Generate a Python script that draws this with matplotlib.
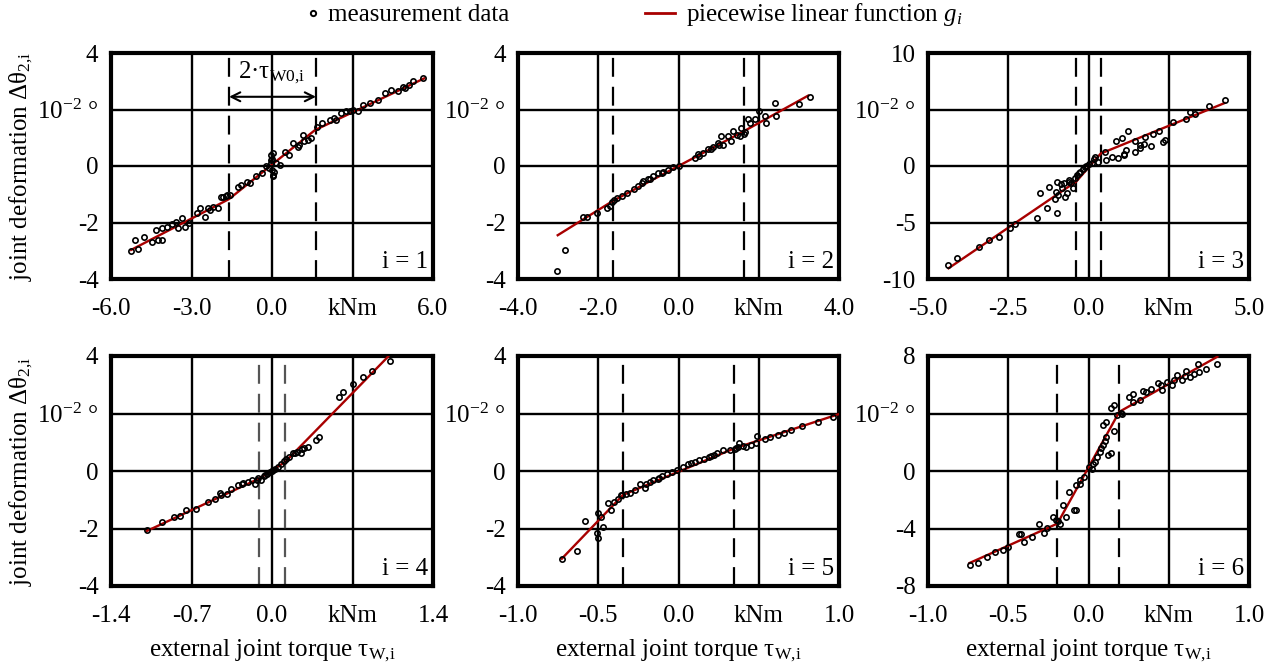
import numpy as np
import matplotlib
matplotlib.use("Agg")
import matplotlib.pyplot as plt
from matplotlib.lines import Line2D

plt.rcParams.update({
    "font.family": ["Liberation Serif", "DejaVu Serif"],
    "font.size": 18,
    "mathtext.fontset": "custom",
    "mathtext.rm": "Liberation Serif",
    "mathtext.it": "Liberation Serif:italic",
    "mathtext.bf": "Liberation Serif:bold",
})

# ---------------- data ----------------
# panel 1
x1 = [-5.26, -5.11, -4.98, -4.77, -4.49, -4.33, -4.24, -4.11, -4.11, -3.74, -3.56, -3.49, -3.37, -3.25,
      -3.08, -2.81, -2.69, -2.50, -2.38, -2.19, -2.00, -1.84, -1.69, -1.57, -1.26, -1.14, -0.95, -0.83,
      -0.60, -0.39, -0.23, -0.11, -0.02, 0.04, 0.02, 0.07, -0.02, 0.14, 0.29, 0.48, 0.64, 0.79, 0.97,
      1.16, 1.35, 1.47, 1.66, 1.88, 2.15, 2.40, 2.59, 2.77, 3.21, 3.39, 3.64, 3.95, 4.20, 4.45, 4.69,
      4.94, 5.25, 5.63,
      0.00, 0.00, 0.05, -0.05, -1.90, -1.70, 2.30, 2.90, 3.00, 4.90, 5.10, -3.90, -2.30, 1.00, 1.20]
y1 = [-3.00, -2.62, -2.95, -2.52, -2.70, -2.27, -2.62, -2.21, -2.62, -2.05, -1.97, -2.21, -1.85, -2.15,
      -2.03, -1.67, -1.50, -1.79, -1.50, -1.44, -1.50, -1.08, -1.02, -1.02, -0.73, -0.67, -0.55, -0.61,
      -0.37, -0.26, 0.00, -0.08, 0.39, 0.45, -0.31, -0.20, 0.10, 0.10, 0.04, 0.51, 0.39, 0.81, 0.69,
      1.10, 0.93, 0.99, 1.38, 1.52, 1.64, 1.64, 1.87, 1.93, 1.93, 2.17, 2.23, 2.35, 2.58, 2.70, 2.64,
      2.76, 3.00, 3.11,
      0.25, -0.15, -0.35, 0.20, -1.10, -1.05, 1.70, 1.95, 2.00, 2.80, 2.85, -2.15, -1.55, 0.75, 0.90]
# panel 2
x2 = [-3.03, -2.84, -2.39, -2.28, -2.03, -1.77, -1.66, -1.54, -1.41, -1.29, -1.12, -1.00, -0.89, -0.75,
      -0.63, -0.50, -0.38, -0.25, -0.13, 0.00, 0.41, 0.49, 0.62, 0.74, 0.87, 0.99, 1.07, 1.12, 1.24,
      1.32, 1.35, 1.53, 1.57, 1.74, 1.78, 1.90, 2.01, 2.15, 2.19, 2.40, 2.43, 3.01, 3.27,
      -1.70, -1.60, -0.90, -0.70, -0.40, 0.50, 0.80, 1.00, 1.45, 1.63, 1.65]
y2 = [-3.73, -2.98, -1.82, -1.80, -1.65, -1.47, -1.29, -1.15, -1.06, -0.94, -0.82, -0.71, -0.53, -0.45,
      -0.35, -0.26, -0.21, -0.14, -0.04, 0.00, 0.29, 0.41, 0.47, 0.59, 0.68, 0.82, 1.06, 0.76, 1.06,
      0.88, 1.24, 1.06, 1.35, 1.65, 1.53, 1.67, 1.94, 1.76, 1.53, 2.24, 1.76, 2.21, 2.45,
      -1.40, -1.20, -0.60, -0.45, -0.25, 0.35, 0.60, 0.75, 1.10, 1.15, 1.20]
# panel 3
x3 = [-4.39, -4.10, -3.42, -3.11, -2.79, -2.46, -2.28, -1.61, -1.51, -1.28, -1.22, -1.04, -1.01, -0.99,
      -0.99, -0.94, -0.83, -0.76, -0.73, -0.68, -0.62, -0.56, -0.49, -0.42, -0.35, -0.26, -0.18, -0.08,
      0.03, 0.17, 0.31, 0.51, 0.56, 0.72, 0.85, 0.93, 1.03, 1.10, 1.17, 1.24, 1.45, 1.45, 1.60, 1.73,
      1.76, 1.96, 2.02, 2.20, 2.31, 2.38, 2.64, 3.05, 3.16, 3.31, 3.76, 4.24,
      -0.30, -0.10, 0.10, 0.20, -0.60, -0.85, 1.10, 1.60]
y3 = [-8.76, -8.17, -7.13, -6.54, -6.25, -5.51, -5.15, -4.56, -2.41, -3.74, -1.82, -2.94, -2.26, -1.46,
      -4.18, -2.56, -1.96, -1.52, -2.70, -2.35, -1.23, -1.52, -1.96, -1.08, -0.78, -0.49, -0.28, 0.00,
      0.19, 0.61, 0.31, 1.28, 0.55, 0.84, 2.17, 0.69, 2.47, 0.99, 1.43, 3.06, 1.28, 2.17, 1.58, 1.94,
      2.56, 1.73, 2.82, 3.06, 2.08, 2.32, 3.89, 4.18, 4.74, 4.62, 5.33, 5.86,
      -0.60, -0.10, 0.30, 0.80, -1.40, -1.60, 1.10, 1.90]
# panel 4
x4 = [-1.09, -0.96, -0.85, -0.80, -0.75, -0.66, -0.56, -0.50, -0.44, -0.39, -0.36, -0.30, -0.26, -0.21,
      -0.17, -0.15, -0.12, -0.10, -0.07, -0.04, -0.02, 0.01, 0.05, 0.08, 0.12, 0.15, 0.18, 0.22, 0.25,
      0.26, 0.31, 0.38, 0.41, 0.58, 0.62, 0.70, 0.79, 0.87, 1.03,
      -0.13, -0.06, 0.00, 0.03, 0.10, 0.20, 0.28, -0.25, -0.45]
y4 = [-2.06, -1.77, -1.60, -1.57, -1.34, -1.31, -1.08, -0.96, -0.84, -0.79, -0.63, -0.49, -0.44, -0.38,
      -0.30, -0.44, -0.23, -0.30, -0.19, -0.12, -0.03, 0.05, 0.14, 0.26, 0.43, 0.49, 0.63, 0.67, 0.61,
      0.78, 0.84, 1.07, 1.17, 2.58, 2.76, 3.02, 3.26, 3.49, 3.84,
      -0.33, -0.15, 0.00, 0.08, 0.35, 0.62, 0.80, -0.42, -0.75]
# panel 5
x5 = [-0.725, -0.63, -0.58, -0.51, -0.50, -0.50, -0.48, -0.47, -0.44, -0.42, -0.40, -0.38, -0.36, -0.33,
      -0.30, -0.27, -0.24, -0.21, -0.18, -0.16, -0.13, -0.10, -0.07, -0.04, -0.01, 0.03, 0.06, 0.10,
      0.13, 0.16, 0.19, 0.22, 0.24, 0.28, 0.32, 0.35, 0.38, 0.42, 0.45, 0.48, 0.49, 0.54, 0.62, 0.66,
      0.70, 0.77, 0.87, 0.96,
      -0.35, 0.36, 0.37, 0.40, 0.08, 0.20, -0.20, -0.12, 0.57]
y5 = [-3.05, -2.79, -1.74, -2.14, -2.32, -1.46, -1.60, -1.95, -1.13, -1.37, -1.08, -0.96, -0.82, -0.79,
      -0.75, -0.67, -0.44, -0.58, -0.38, -0.33, -0.27, -0.17, -0.12, -0.03, 0.02, 0.14, 0.24, 0.32,
      0.38, 0.43, 0.49, 0.55, 0.63, 0.72, 0.72, 0.78, 0.98, 0.84, 0.90, 0.98, 1.21, 1.10, 1.25, 1.31,
      1.42, 1.56, 1.71, 1.89,
      -0.85, 0.80, 0.85, 0.88, 0.28, 0.52, -0.45, -0.25, 1.18]
# panel 6
x6 = [-0.74, -0.69, -0.63, -0.58, -0.53, -0.50, -0.43, -0.40, -0.35, -0.31, -0.28, -0.26, -0.22, -0.18,
      -0.16, -0.14, -0.12, -0.09, -0.08, -0.08, -0.05, -0.03, 0.00, 0.02, 0.03, 0.05, 0.07, 0.08, 0.09,
      0.10, 0.11, 0.12, 0.14, 0.09, 0.11, 0.14, 0.16, 0.16, 0.20, 0.25, 0.28, 0.28, 0.32, 0.34, 0.36,
      0.39, 0.43, 0.46, 0.49, 0.52, 0.55, 0.58, 0.61, 0.63, 0.66, 0.69, 0.68, 0.73, 0.80,
      -0.20, -0.19, -0.42, 0.21, 0.18, 0.45, 0.53, 0.60, -0.05, 0.04]
y6 = [-6.56, -6.40, -5.98, -5.63, -5.52, -5.28, -4.36, -4.94, -4.59, -3.66, -4.31, -3.94, -3.19, -3.66,
      -2.38, -3.19, -1.45, -2.73, -2.73, -0.99, -0.64, -0.41, 0.29, 0.17, 0.52, 0.99, 1.33, 1.57, 1.80,
      2.10, 2.38, 1.10, 1.22, 3.19, 3.43, 4.40, 4.59, 2.80, 4.05, 5.12, 5.35, 4.82, 4.93, 5.58, 5.52,
      5.68, 6.14, 5.63, 6.21, 5.98, 6.68, 6.33, 6.98, 6.51, 6.75, 6.91, 7.44, 7.07, 7.44,
      -3.40, -3.50, -4.40, 4.00, 3.90, 6.00, 6.30, 6.60, -0.90, 0.60]

# piecewise linear functions g_i (vertices)
gx = [[-5.25, -1.60, 1.60, 5.67], [-3.01, -1.64, 1.64, 3.23], [-4.36, -0.38, 0.38, 4.24],
      [-1.09, -0.11, 0.116, 1.01], [-0.727, -0.345, 0.345, 0.994], [-0.741, -0.194, 0.192, 0.803]]
gy = [[-2.97, -1.17, 1.27, 3.10], [-2.45, -1.24, 1.24, 2.49], [-9.05, -1.37, 1.10, 5.57],
      [-2.09, -0.26, 0.32, 3.98], [-3.05, -0.83, 0.78, 1.97], [-6.40, -3.66, 4.12, 7.95]]

# tau_W0 (dashed lines)
tau_lo = [-1.60, -1.64, -0.38, -0.109, -0.345, -0.194]
tau_hi = [1.64, 1.64, 0.38, 0.116, 0.348, 0.192]

xticks = [[-6, -3, 0, 3, 6], [-4, -2, 0, 2, 4], [-5, -2.5, 0, 2.5, 5],
          [-1.4, -0.7, 0, 0.7, 1.4], [-1, -0.5, 0, 0.5, 1], [-1, -0.5, 0, 0.5, 1]]
xticklabels = [["-6.0", "-3.0", "0.0", "kNm", "6.0"], ["-4.0", "-2.0", "0.0", "kNm", "4.0"],
               ["-5.0", "-2.5", "0.0", "kNm", "5.0"], ["-1.4", "-0.7", "0.0", "kNm", "1.4"],
               ["-1.0", "-0.5", "0.0", "kNm", "1.0"], ["-1.0", "-0.5", "0.0", "kNm", "1.0"]]
unit_lbl = "$\\mathregular{10^{-2}}$ °"
yticks = [[-4, -2, 0, 2, 4], [-4, -2, 0, 2, 4], [-10, -5, 0, 5, 10],
          [-4, -2, 0, 2, 4], [-4, -2, 0, 2, 4], [-8, -4, 0, 4, 8]]
yticklabels = [["-4", "-2", "0", unit_lbl, "4"], ["-4", "-2", "0", unit_lbl, "4"],
               ["-10", "-5", "0", unit_lbl, "10"], ["-4", "-2", "0", unit_lbl, "4"],
               ["-4", "-2", "0", unit_lbl, "4"], ["-8", "-4", "0", unit_lbl, "8"]]
panel_names = ["i = 1", "i = 2", "i = 3", "i = 4", "i = 5", "i = 6"]

xs = [x1, x2, x3, x4, x5, x6]
ys = [y1, y2, y3, y4, y5, y6]

RED = "#a80000"
W, H = 1280, 664
fig = plt.figure(figsize=(12.8, 6.64), dpi=100)

lefts = [111, 518, 928]
widths = [322, 321, 321]
rows = [(53, 279), (356, 586)]

axes = []
for r, (top, bot) in enumerate(rows):
    for c in range(3):
        ax = fig.add_axes([lefts[c] / W, 1 - bot / H, widths[c] / W, (bot - top) / H])
        axes.append(ax)

for k, ax in enumerate(axes):
    xt = xticks[k]
    yt = yticks[k]
    ax.set_xlim(xt[0], xt[-1])
    ax.set_ylim(yt[0], yt[-1])
    ax.set_xticks(xt)
    ax.set_xticklabels(xticklabels[k])
    ax.set_yticks(yt)
    ax.set_yticklabels(yticklabels[k])
    ax.tick_params(length=0, labelsize=18)
    ax.tick_params(axis="x", pad=14)
    ax.tick_params(axis="y", pad=9)
    ax.grid(True, color="k", lw=1.7)
    ax.set_axisbelow(True)
    for sp in ax.spines.values():
        sp.set_linewidth(3)
    dcol = "#555555" if k == 3 else "k"
    for t in (tau_lo[k], tau_hi[k]):
        ax.axvline(t, color=dcol, lw=1.6, ls=(0, (8.5, 4.5)), zorder=2)
    ax.plot(gx[k], gy[k], color=RED, lw=1.7, zorder=3)
    ax.plot(xs[k], ys[k], ls="none", marker="o", ms=3.8, mfc="none", mec="k", mew=1.2, zorder=4)
    ax.text(0.985, 0.025, panel_names[k], transform=ax.transAxes, ha="right", va="bottom", fontsize=18)

# annotation in panel 1
ax = axes[0]
ax.annotate("", xy=(tau_hi[0], 2.45), xytext=(tau_lo[0], 2.45),
            arrowprops=dict(arrowstyle="<->", color="k", lw=1.5, shrinkA=0, shrinkB=0, mutation_scale=16))
ax.text(0.0, 3.3, "2·τ$_\\mathregular{W0{,}i}$", ha="center", va="center", fontsize=18)

ylab = "joint deformation Δθ$_\\mathregular{2{,}i}$"
for ax in (axes[0], axes[3]):
    ax.set_ylabel(ylab, fontsize=18)
    ax.yaxis.set_label_coords(-0.235, 0.5)
for ax in axes[3:]:
    ax.set_xlabel("external joint torque τ$_\\mathregular{W{,}i}$", fontsize=18, labelpad=7)

h1 = Line2D([], [], ls="none", marker="o", ms=3.8, mfc="none", mec="k", mew=1.4)
h2 = Line2D([], [], color=RED, lw=2)
fig.legend([h1], ["measurement data"], loc="center left", bbox_to_anchor=(305 / W, 1 - 15 / H),
           frameon=False, handlelength=0.6, handletextpad=0.3, borderpad=0, borderaxespad=0, fontsize=18)
fig.legend([h2], ["piecewise linear function $g_i$"], loc="center left",
           bbox_to_anchor=(645 / W, 1 - 15 / H), frameon=False, handlelength=1.2,
           handletextpad=0.45, borderpad=0, borderaxespad=0, fontsize=18)

fig.savefig("out.png", dpi=100)
